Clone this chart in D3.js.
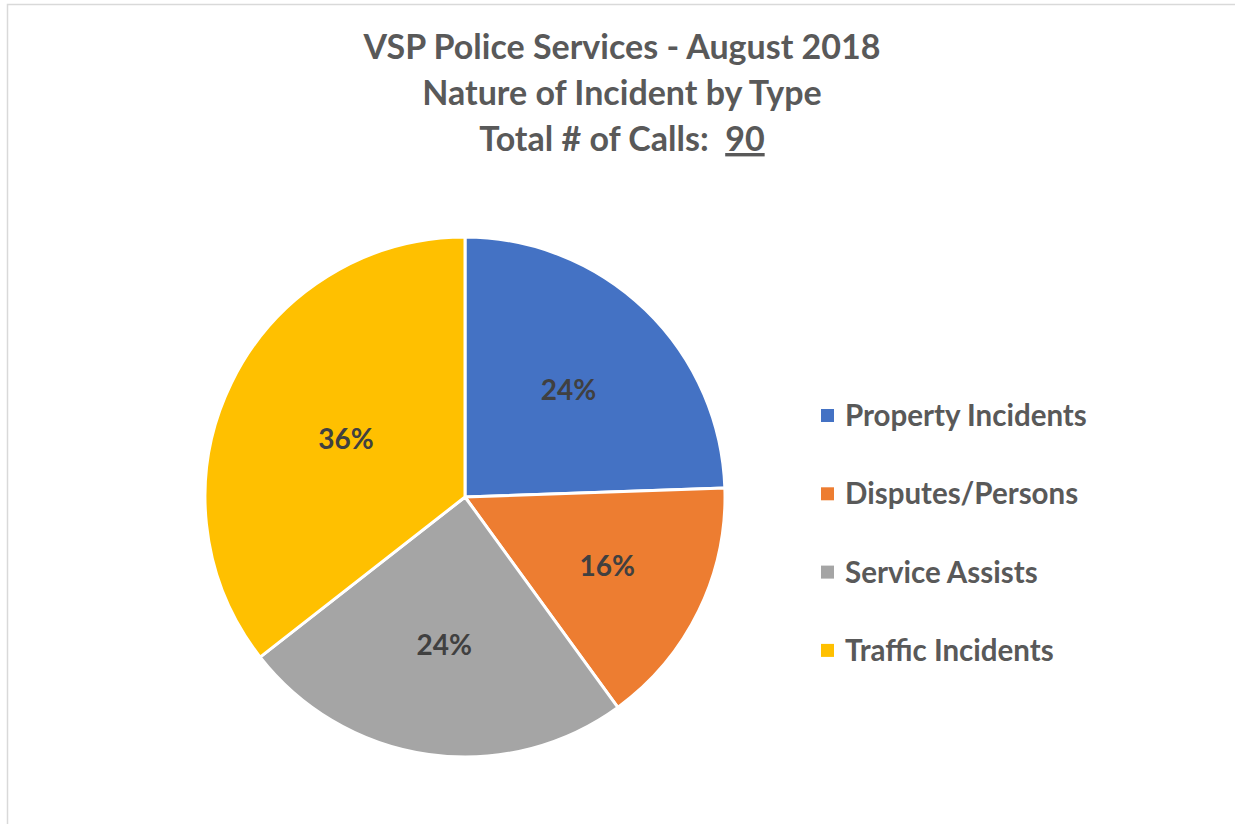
<!DOCTYPE html>
<html>
<head>
<meta charset="utf-8">
<script src="https://cdn.jsdelivr.net/npm/d3@7"></script>
<style>
  body { margin: 0; background: #fff; }
  text { font-family: Lato, "Open Sans", sans-serif; font-weight: bold; }
</style>
</head>
<body>
<svg id="chart"></svg>
<script>
const categories = ["Property Incidents", "Disputes/Persons", "Service Assists", "Traffic Incidents"];
const calls = [22, 14, 22, 32];
const colors = ["#4472c4", "#ed7d31", "#a5a5a5", "#ffc000"];
const titleLines = ["VSP Police Services - August 2018", "Nature of Incident by Type"];

const width = 1235, height = 824;
const svg = d3.select("#chart")
    .attr("width", width)
    .attr("height", height);

// chart frame (only the top/left edges are inside the shot)
svg.append("rect")
    .attr("x", 7.5).attr("y", 4.5)
    .attr("width", width + 20).attr("height", height + 20)
    .attr("fill", "none")
    .attr("stroke", "#d9d9d9")
    .attr("stroke-width", 1.5);

// title
const title = svg.append("text")
    .attr("x", 622)
    .attr("text-anchor", "middle")
    .attr("fill", "#595959")
    .style("font-size", "34px");
titleLines.forEach((t, i) => {
    title.append("tspan").attr("x", 622).attr("y", 59 + i * 46).text(t);
});
const total = d3.sum(calls);
title.append("tspan").attr("x", 622).attr("y", 151).text("Total # of Calls:\u00a0\u00a0");
title.append("tspan").attr("text-decoration", "underline").text(total);

// pie
const radius = 260;
const g = svg.append("g").attr("transform", "translate(465,497)");
const pie = d3.pie().sort(null).value(d => d.value);
const arc = d3.arc().innerRadius(0).outerRadius(radius);

const data = categories.map((c, i) => ({ name: c, value: calls[i], color: colors[i] }));
const arcs = pie(data);

// labels sit near the area centroid of each slice
function labelPos(d) {
    const half = (d.endAngle - d.startAngle) / 2;
    const mid = d.startAngle + half;
    const dist = 0.95 * 2 * radius * Math.sin(half) / (3 * half);
    return [dist * Math.sin(mid), -dist * Math.cos(mid)];
}

g.selectAll("path")
    .data(arcs)
    .enter()
    .append("path")
    .attr("d", arc)
    .attr("fill", d => d.data.color)
    .attr("stroke", "#fff")
    .attr("stroke-width", 3)
    .attr("stroke-linejoin", "round");

g.selectAll(".pct")
    .data(arcs)
    .enter()
    .append("text")
    .attr("class", "pct")
    .attr("transform", d => `translate(${labelPos(d)})`)
    .attr("text-anchor", "middle")
    .attr("dy", "0.36em")
    .attr("fill", "#404040")
    .style("font-size", "28px")
    .text(d => Math.round(d.data.value / total * 100) + "%");

// legend
const legend = svg.append("g").attr("transform", "translate(821,415.5)");
const item = legend.selectAll("g")
    .data(data)
    .enter()
    .append("g")
    .attr("transform", (d, i) => `translate(0,${i * 78.3})`);
item.append("rect")
    .attr("x", 0).attr("y", -6.5)
    .attr("width", 13).attr("height", 13)
    .attr("fill", d => d.color);
item.append("text")
    .attr("x", 24)
    .attr("dy", "0.36em")
    .attr("fill", "#595959")
    .style("font-size", "29.5px")
    .text(d => d.name);
</script>
</body>
</html>
